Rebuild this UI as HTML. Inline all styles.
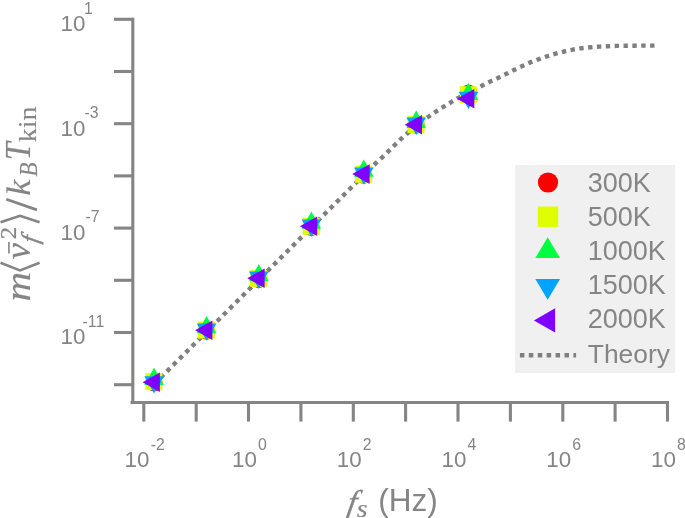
<!DOCTYPE html>
<html lang="en"><head><meta charset="utf-8"><title>Velocity variance vs sampling frequency</title>
<style>
html,body{margin:0;padding:0;background:#fff;}
body{width:685px;height:518px;overflow:hidden;}
svg{display:block;}
.s{font-family:"Liberation Sans",Arial,sans-serif;fill:#858585;}
.m{font-family:"Liberation Serif","DejaVu Serif",serif;fill:#858585;}
.i{font-style:italic;}
</style></head><body>
<svg width="685" height="518" viewBox="0 0 685 518">
<rect x="0" y="0" width="685" height="518" fill="#ffffff"/>
<rect x="515.1" y="165" width="160.1" height="208" fill="#f0f0f0"/>
<g stroke="#858585" stroke-width="3.1" fill="none" stroke-linecap="butt">
<path d="M132.8 17.8 V404.0"/>
<path d="M130.5 402.5 H669.0"/>
<path d="M114 19.3 H132.8"/>
<path d="M114 71.5 H132.8"/>
<path d="M114 123.7 H132.8"/>
<path d="M114 175.9 H132.8"/>
<path d="M114 228.1 H132.8"/>
<path d="M114 280.3 H132.8"/>
<path d="M114 332.5 H132.8"/>
<path d="M114 384.7 H132.8"/>
<path d="M143.8 402.5 V421.6"/>
<path d="M196.2 402.5 V421.6"/>
<path d="M248.5 402.5 V421.6"/>
<path d="M300.9 402.5 V421.6"/>
<path d="M353.3 402.5 V421.6"/>
<path d="M405.6 402.5 V421.6"/>
<path d="M458.0 402.5 V421.6"/>
<path d="M510.4 402.5 V421.6"/>
<path d="M562.8 402.5 V421.6"/>
<path d="M615.1 402.5 V421.6"/>
<path d="M667.5 402.5 V421.6"/>
</g>
<path d="M154.3 383.9 L364.3 174.5 L375.8 163.2 L382.2 157.3 L388.5 151.2 L395.0 144.8 L401.1 138.8 L407.6 133.0 L417.0 125.3 L428.8 116.5 L435.9 111.6 L443.4 106.9 L450.8 102.3 L457.8 98.1 L468.7 92.5 L482.4 85.5 L490.4 81.4 L498.5 77.7 L506.5 73.8 L514.5 69.7 L522.3 66.1 L530.3 62.4 L538.6 59.2 L546.9 56.3 L555.7 53.6 L564.2 51.5 L572.8 49.6 L581.6 48.2 L590.7 47.3 L599.4 46.6 L608.2 46.2 L617.0 45.9 L625.7 45.8 L634.5 45.7 L643.2 45.6 L654.5 45.6" fill="none" stroke="#7f7f7f" stroke-width="4.4" stroke-dasharray="4.4 4.465"/>
<circle cx="154.1" cy="383.1" r="8.5" fill="#ff0000"/>
<rect x="145.4" y="373.2" width="17.0" height="17.0" fill="#dfff00"/>
<polygon points="154.1,367.8 144.3,385.1 163.9,385.1" fill="#00ff40"/>
<polygon points="154.1,393.5 144.3,376.2 163.9,376.2" fill="#00a4ff"/>
<polygon points="142.6,382.3 159.9,372.5 159.9,392.1" fill="#8000ff"/>
<circle cx="206.6" cy="331.2" r="8.5" fill="#ff0000"/>
<rect x="197.9" y="321.6" width="17.0" height="17.0" fill="#dfff00"/>
<polygon points="206.6,316.0 196.8,333.3 216.4,333.3" fill="#00ff40"/>
<polygon points="206.6,340.7 196.8,323.4 216.4,323.4" fill="#00a4ff"/>
<polygon points="195.1,330.2 212.4,320.4 212.4,340.0" fill="#8000ff"/>
<circle cx="258.8" cy="279.5" r="8.5" fill="#ff0000"/>
<rect x="250.1" y="269.9" width="17.0" height="17.0" fill="#dfff00"/>
<polygon points="258.8,264.0 249.0,281.3 268.6,281.3" fill="#00ff40"/>
<polygon points="258.8,288.9 249.0,271.6 268.6,271.6" fill="#00a4ff"/>
<polygon points="247.3,278.2 264.6,268.4 264.6,288.0" fill="#8000ff"/>
<circle cx="311.4" cy="227.4" r="8.5" fill="#ff0000"/>
<rect x="302.7" y="217.8" width="17.0" height="17.0" fill="#dfff00"/>
<polygon points="311.4,211.4 301.6,228.7 321.2,228.7" fill="#00ff40"/>
<polygon points="311.4,236.9 301.6,219.6 321.2,219.6" fill="#00a4ff"/>
<polygon points="299.9,226.2 317.2,216.4 317.2,236.0" fill="#8000ff"/>
<circle cx="363.8" cy="175.2" r="8.5" fill="#ff0000"/>
<rect x="355.1" y="165.8" width="17.0" height="17.0" fill="#dfff00"/>
<polygon points="363.8,159.4 354.0,176.7 373.6,176.7" fill="#00ff40"/>
<polygon points="363.8,184.7 354.0,167.4 373.6,167.4" fill="#00a4ff"/>
<polygon points="352.3,174.1 369.6,164.3 369.6,183.9" fill="#8000ff"/>
<circle cx="416.2" cy="125.2" r="8.5" fill="#ff0000"/>
<rect x="407.5" y="116.0" width="17.0" height="17.0" fill="#dfff00"/>
<polygon points="416.2,110.6 406.4,127.9 426.0,127.9" fill="#00ff40"/>
<polygon points="416.2,134.9 406.4,117.6 426.0,117.6" fill="#00a4ff"/>
<polygon points="404.7,124.7 422.0,114.9 422.0,134.5" fill="#8000ff"/>
<circle cx="468.5" cy="93.3" r="8.5" fill="#ff0000"/>
<rect x="459.8" y="86.2" width="17.0" height="17.0" fill="#dfff00"/>
<polygon points="468.5,82.8 458.7,100.1 478.3,100.1" fill="#00ff40"/>
<polygon points="468.5,109.1 458.7,91.8 478.3,91.8" fill="#00a4ff"/>
<polygon points="457.0,98.8 474.3,89.0 474.3,108.6" fill="#8000ff"/>
<circle cx="548.0" cy="182.5" r="10.1" fill="#ff0000"/>
<rect x="537.8" y="206.5" width="20.4" height="20.4" fill="#dfff00"/>
<polygon points="547.7,237.3 535.3,258.1 560.1,258.1" fill="#00ff40"/>
<polygon points="547.7,299.8 535.3,278.9 560.1,278.9" fill="#00a4ff"/>
<polygon points="533.9,320.4 555.1,308.3 555.1,332.6" fill="#8000ff"/>
<path d="M519.9 355.2 H576.1" fill="none" stroke="#7f7f7f" stroke-width="4.5" stroke-dasharray="4.5 4.42"/>
<text class="s" x="587.7" y="191.5" font-size="27.0">300K</text>
<text class="s" x="587.7" y="225.7" font-size="27.0">500K</text>
<text class="s" x="587.7" y="259.9" font-size="27.0">1000K</text>
<text class="s" x="587.7" y="294.1" font-size="27.0">1500K</text>
<text class="s" x="587.7" y="328.3" font-size="27.0">2000K</text>
<text class="s" x="587.8" y="362.5" font-size="26.4">Theory</text>
<text class="s" transform="translate(60.6,31.2) scale(0.977,1)" font-size="22.9">10</text>
<text class="s" x="84.1" y="13.6" font-size="15.8">1</text>
<text class="s" transform="translate(60.6,135.6) scale(0.977,1)" font-size="22.9">10</text>
<text class="s" x="84.6" y="118.0" font-size="15.8">-3</text>
<text class="s" transform="translate(60.6,240.0) scale(0.977,1)" font-size="22.9">10</text>
<text class="s" x="85.6" y="222.4" font-size="15.8">-7</text>
<text class="s" transform="translate(60.6,344.4) scale(0.977,1)" font-size="22.9">10</text>
<text class="s" x="82.6" y="326.8" font-size="15.8">-11</text>
<text class="s" transform="translate(124.6,467.3) scale(0.977,1)" font-size="22.9">10</text>
<text class="s" x="150.7" y="449.8" font-size="15.8">-2</text>
<text class="s" transform="translate(232.0,467.3) scale(0.977,1)" font-size="22.9">10</text>
<text class="s" x="258.1" y="449.8" font-size="15.8">0</text>
<text class="s" transform="translate(336.7,467.3) scale(0.977,1)" font-size="22.9">10</text>
<text class="s" x="362.8" y="449.8" font-size="15.8">2</text>
<text class="s" transform="translate(441.5,467.3) scale(0.977,1)" font-size="22.9">10</text>
<text class="s" x="467.6" y="449.8" font-size="15.8">4</text>
<text class="s" transform="translate(546.2,467.3) scale(0.977,1)" font-size="22.9">10</text>
<text class="s" x="572.3" y="449.8" font-size="15.8">6</text>
<text class="s" transform="translate(651.0,467.3) scale(0.977,1)" font-size="22.9">10</text>
<text class="s" x="677.1" y="449.8" font-size="15.8">8</text>
<text class="m i" transform="translate(346.40,512.70) skewX(-10.0) scale(1.000,1)" x="-0.37" y="0" font-size="33.0" stroke="#858585" stroke-width="0.30">f</text>
<text class="m i" transform="translate(357.20,517.00) scale(1.130,1)" x="-0.30" y="0" font-size="24.5" stroke="#858585" stroke-width="0.15">s</text>
<text class="s" transform="translate(380.30,510.80) scale(1.000,1)" x="-1.95" y="0" font-size="31.5">(Hz)</text>
<g transform="translate(0,301.0) rotate(-90)">
<text class="m i" transform="translate(1.00,29.80) scale(1.182,1)" x="-1.26" y="0" font-size="34.8" stroke="#858585" stroke-width="0.15">m</text>
<path d="M38.2 0.5 L30.6 20 L38.2 39.6" fill="none" stroke="#858585" stroke-width="2.6" stroke-linejoin="miter"/>
<text class="m i" transform="translate(42.00,29.80) scale(1.062,1)" x="-0.48" y="0" font-size="34.8" stroke="#858585" stroke-width="0.15">v</text>
<path d="M47.4 8.9 H58.9" stroke="#858585" stroke-width="1.6"/>
<text class="m i" transform="translate(57.60,38.00) skewX(-10.0) scale(1.000,1)" x="-0.27" y="0" font-size="24.0" stroke="#858585" stroke-width="0.50">f</text>
<text class="m" transform="translate(62.80,16.00) scale(1.102,1)" x="-0.98" y="0" font-size="22.4" stroke="#858585" stroke-width="0.20">2</text>
<path d="M78.7 0.5 L85.2 20 L78.7 39.6" fill="none" stroke="#858585" stroke-width="2.6" stroke-linejoin="miter"/>
<path d="M91.1 36.9 L101.8 6.3" fill="none" stroke="#858585" stroke-width="2.8"/>
<text class="m i" transform="translate(106.30,29.80) scale(1.046,1)" x="-0.99" y="0" font-size="34.5" stroke="#858585" stroke-width="0.15">k</text>
<text class="m i" transform="translate(124.60,36.90) scale(0.940,1)" x="-0.23" y="0" font-size="24.4" stroke="#858585" stroke-width="0.15">B</text>
<text class="m i" transform="translate(142.80,30.20) scale(0.920,1)" x="-2.29" y="0" font-size="35.0" stroke="#858585" stroke-width="0.15">T</text>
<text class="m" transform="translate(159.20,36.30) scale(1.082,1)" x="-0.50" y="0" font-size="26.0" stroke="#858585" stroke-width="0.09">kin</text>
</g>
</svg>
</body></html>
